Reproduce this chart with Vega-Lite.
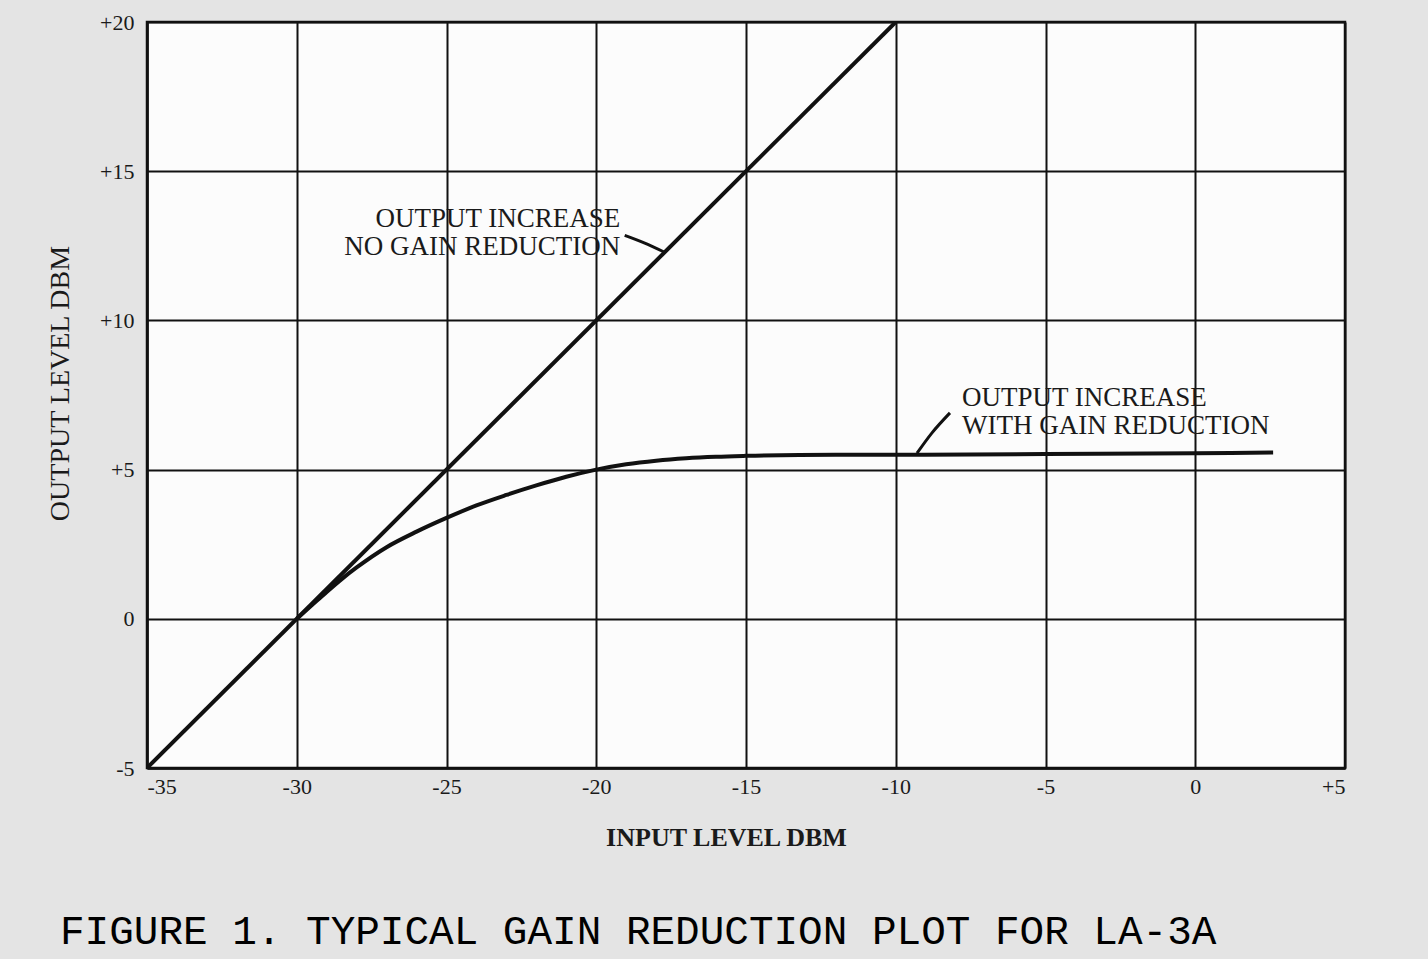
{
  "$schema": "https://vega.github.io/schema/vega-lite/v6.json",
  "width": 1198,
  "height": 746,
  "autosize": {"type": "none"},
  "padding": {"left": 147, "top": 22, "right": 83, "bottom": 191},
  "background": "#e4e4e4",
  "title": {
    "text": "FIGURE 1.  TYPICAL GAIN REDUCTION PLOT FOR LA-3A",
    "orient": "bottom",
    "anchor": "start",
    "frame": "group",
    "dx": -87,
    "offset": 62,
    "font": "Liberation Mono",
    "fontSize": 41,
    "fontWeight": "normal",
    "color": "#000000"
  },
  "config": {
    "view": {"fill": "#fcfcfc", "stroke": "#111111", "strokeWidth": 2.5},
    "axis": {
      "gridColor": "#111111",
      "gridWidth": 2,
      "gridOpacity": 1,
      "domainColor": "#111111",
      "domainWidth": 2.5,
      "ticks": false,
      "labelFont": "Liberation Serif",
      "labelFontSize": 22,
      "labelColor": "#1a1a1a",
      "titleFont": "Liberation Serif",
      "titleFontSize": 28,
      "titleFontWeight": "normal",
      "titleColor": "#1a1a1a"
    }
  },
  "datasets": {
    "straight": [
      {"input": -35, "output": -5},
      {"input": -10, "output": 20}
    ],
    "reduction": [
      {"input": -30, "output": 0},
      {"input": -29.5, "output": 0.45},
      {"input": -29, "output": 0.9},
      {"input": -28.5, "output": 1.33},
      {"input": -28, "output": 1.72},
      {"input": -27, "output": 2.4},
      {"input": -26, "output": 2.92},
      {"input": -25, "output": 3.38},
      {"input": -24, "output": 3.8},
      {"input": -23, "output": 4.15},
      {"input": -22, "output": 4.47},
      {"input": -21, "output": 4.76},
      {"input": -20, "output": 5.0},
      {"input": -19, "output": 5.18},
      {"input": -18, "output": 5.3},
      {"input": -17, "output": 5.38},
      {"input": -16, "output": 5.43},
      {"input": -15, "output": 5.46},
      {"input": -12, "output": 5.5},
      {"input": -10, "output": 5.5},
      {"input": -5, "output": 5.52},
      {"input": 0, "output": 5.55},
      {"input": 2.6, "output": 5.57}
    ],
    "leaders": [
      {"id": "a", "input": -19.05, "output": 12.85},
      {"id": "a", "input": -18.4, "output": 12.6},
      {"id": "a", "input": -17.75, "output": 12.3},
      {"id": "b", "input": -8.19, "output": 6.9},
      {"id": "b", "input": -8.79, "output": 6.23},
      {"id": "b", "input": -9.29, "output": 5.55}
    ],
    "notesRight": [
      {"input": -19.2, "output": 13.4, "text": "OUTPUT INCREASE"},
      {"input": -19.2, "output": 12.45, "text": "NO GAIN REDUCTION"}
    ],
    "notesLeft": [
      {"input": -7.79, "output": 7.4, "text": "OUTPUT INCREASE"},
      {"input": -7.79, "output": 6.45, "text": "WITH GAIN REDUCTION"}
    ]
  },
  "layer": [
    {
      "data": {"name": "straight"},
      "mark": {"type": "line", "color": "#111111", "strokeWidth": 4, "clip": true},
      "encoding": {
        "x": {
          "field": "input",
          "type": "quantitative",
          "scale": {"domain": [-35, 5], "nice": false, "zero": false},
          "axis": {
            "values": [-35, -30, -25, -20, -15, -10, -5, 0, 5],
            "labelExpr": "datum.value > 0 ? '+' + datum.value : '' + datum.value",
            "labelPadding": 8,
            "title": "INPUT LEVEL DBM",
            "titleFontSize": 26,
            "titleFontWeight": "bold",
            "titleX": 579,
            "titleY": 69,
            "titleBaseline": "middle"
          }
        },
        "y": {
          "field": "output",
          "type": "quantitative",
          "scale": {"domain": [-5, 20], "nice": false, "zero": false},
          "axis": {
            "values": [-5, 0, 5, 10, 15, 20],
            "labelExpr": "datum.value > 0 ? '+' + datum.value : '' + datum.value",
            "labelPadding": 13,
            "title": "OUTPUT LEVEL DBM",
            "titleX": -87,
            "titleY": 361,
            "titleAngle": -90,
            "titleBaseline": "middle",
            "titleAlign": "center"
          }
        }
      }
    },
    {
      "data": {"name": "reduction"},
      "mark": {"type": "line", "color": "#111111", "strokeWidth": 4, "interpolate": "monotone"},
      "encoding": {
        "x": {"field": "input", "type": "quantitative"},
        "y": {"field": "output", "type": "quantitative"}
      }
    },
    {
      "data": {"name": "leaders"},
      "mark": {"type": "line", "color": "#111111", "strokeWidth": 3, "interpolate": "monotone"},
      "encoding": {
        "x": {"field": "input", "type": "quantitative"},
        "y": {"field": "output", "type": "quantitative"},
        "detail": {"field": "id"}
      }
    },
    {
      "data": {"name": "notesRight"},
      "mark": {"type": "text", "font": "Liberation Serif", "fontSize": 27, "color": "#1a1a1a", "baseline": "middle", "align": "right"},
      "encoding": {
        "x": {"field": "input", "type": "quantitative"},
        "y": {"field": "output", "type": "quantitative"},
        "text": {"field": "text"}
      }
    },
    {
      "data": {"name": "notesLeft"},
      "mark": {"type": "text", "font": "Liberation Serif", "fontSize": 27, "color": "#1a1a1a", "baseline": "middle", "align": "left"},
      "encoding": {
        "x": {"field": "input", "type": "quantitative"},
        "y": {"field": "output", "type": "quantitative"},
        "text": {"field": "text"}
      }
    }
  ]
}
